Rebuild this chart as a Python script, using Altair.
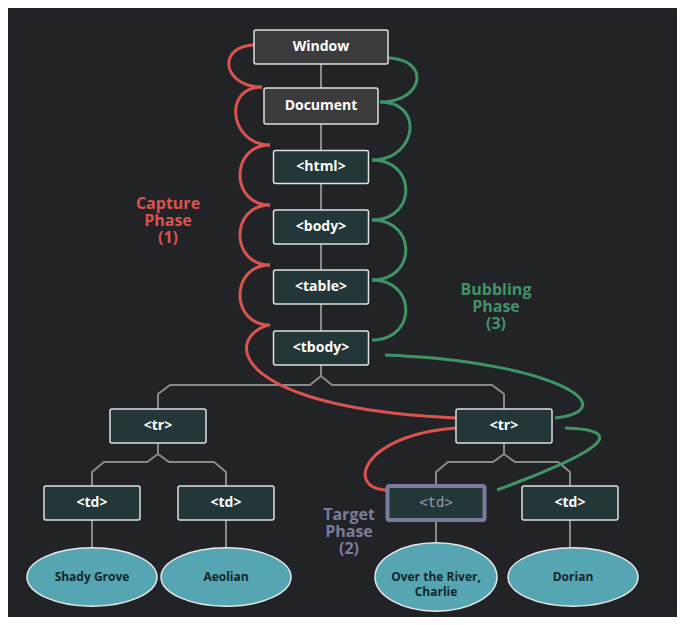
import altair as alt
import pandas as pd
import numpy as np

BG = "#222327"
RED = "#d9534f"
GREEN = "#3f9466"
LAV = "#7b7b9c"

# boxes: label, center x, center y, width, height, kind
box_label = ["Window", "Document", "<html>", "<body>", "<table>", "<tbody>",
             "<tr>", "<tr>", "<td>", "<td>", "<td>", "<td>"]
box_x = [321, 321, 321, 321, 321, 321, 158, 504, 92, 226, 436, 570]
box_y = [47, 106, 167, 227, 287, 348, 426, 426, 503, 503, 503, 503]
box_w = [134, 114, 95, 95, 95, 95, 96, 96, 96, 96, 97, 96]
box_h = [34, 36, 33, 34, 34, 34, 34, 34, 34, 34, 34, 34]
box_kind = ["doc", "doc", "el", "el", "el", "el", "el", "el", "el", "el", "target", "el"]

leaf_label = ["Shady Grove", "Aeolian", "Over the River,\nCharlie", "Dorian"]
leaf_x = [92, 226, 436, 573]
leaf_y = [577, 577, 577, 577]

# tree connector polylines (x, y pairs)
links = [
    [(321, 64), (321, 88)], [(321, 124), (321, 151)], [(321, 184), (321, 210)],
    [(321, 244), (321, 270)], [(321, 304), (321, 331)],
    [(321, 365), (321, 376), (310, 385), (170, 385), (158, 394), (158, 409)],
    [(321, 376), (332, 385), (492, 385), (504, 394), (504, 409)],
    [(158, 443), (158, 454), (147, 462), (104, 462), (92, 472), (92, 486)],
    [(158, 454), (169, 462), (214, 462), (226, 472), (226, 486)],
    [(504, 443), (504, 454), (493, 462), (448, 462), (436, 472), (436, 486)],
    [(504, 454), (515, 462), (558, 462), (570, 472), (570, 486)],
    [(92, 520), (92, 547)], [(226, 520), (226, 547)],
    [(436, 520), (436, 542)], [(570, 520), (570, 547)],
]

# phase curves as cubic bezier control points
red_ends_y = [45, 87, 145, 205, 265, 325]
red_ends_x = [256, 262, 270, 270, 270, 270]
green_ends_y = [58, 102, 160, 220, 280, 340]
green_ends_x = [386, 380, 372, 372, 372, 372]
red_extra = [[(268, 325), (222, 340), (235, 408), (456, 418)],
             [(456, 428), (360, 435), (345, 490), (388, 490)]]
green_extra = [[(385, 355), (560, 362), (625, 410), (555, 418)],
               [(565, 428), (625, 430), (610, 448), (497, 490)]]


def bez(p, n=40):
    t = np.linspace(0, 1, n)[:, None]
    p = np.array(p, dtype=float)
    return ((1 - t) ** 3 * p[0] + 3 * (1 - t) ** 2 * t * p[1]
            + 3 * (1 - t) * t ** 2 * p[2] + t ** 3 * p[3])


curves = []
for i in range(len(red_ends_y) - 1):
    a, b = red_ends_y[i], red_ends_y[i + 1]
    xa, xb = red_ends_x[i], red_ends_x[i + 1]
    curves.append(("red", [(xa, a), (xa - 40, a), (xb - 40, b), (xb, b)]))
for c in red_extra:
    curves.append(("red", c))
for i in range(len(green_ends_y) - 1):
    a, b = green_ends_y[i], green_ends_y[i + 1]
    xa, xb = green_ends_x[i], green_ends_x[i + 1]
    curves.append(("green", [(xa, a), (xa + 45, a), (xb + 45, b), (xb, b)]))
for c in green_extra:
    curves.append(("green", c))

rows = []
for k, (col, pts) in enumerate(curves):
    for j, (x, y) in enumerate(bez(pts)):
        rows.append({"id": k, "o": j, "x": x, "y": y, "c": col})
curve_df = pd.DataFrame(rows)

link_rows = []
for k, pts in enumerate(links):
    for j, (x, y) in enumerate(pts):
        link_rows.append({"id": k, "o": j, "x": x, "y": y})
link_df = pd.DataFrame(link_rows)

box_df = pd.DataFrame({"label": box_label, "x": box_x, "y": box_y, "w": box_w,
                       "h": box_h, "kind": box_kind})
box_df["x1"] = box_df.x - box_df.w / 2
box_df["x2"] = box_df.x + box_df.w / 2
box_df["y1"] = box_df.y - box_df.h / 2
box_df["y2"] = box_df.y + box_df.h / 2

leaf_df = pd.DataFrame({"label": leaf_label, "x": leaf_x, "y": leaf_y})
leaf_df["label"] = leaf_df["label"].str.split("\n")

phase_df = pd.DataFrame({
    "label": [["Capture", "Phase", "(1)"], ["Bubbling", "Phase", "(3)"], ["Target", "Phase", "(2)"]],
    "x": [168, 496, 349], "y": [196, 282, 507], "c": [RED, GREEN, LAV]})

X = alt.Scale(domain=[8, 677])
Y = alt.Scale(domain=[617, 8])
ax = lambda f: alt.X(f, scale=X, axis=None)
ay = lambda f: alt.Y(f, scale=Y, axis=None)

links_l = alt.Chart(link_df).mark_line(color="#8a8a8a", strokeWidth=2).encode(
    x=ax("x:Q"), y=ay("y:Q"), detail="id:N", order="o:Q")

curves_l = alt.Chart(curve_df).mark_line(strokeWidth=3).encode(
    x=ax("x:Q"), y=ay("y:Q"), detail="id:N", order="o:Q",
    color=alt.Color("c:N", scale=alt.Scale(domain=["red", "green"], range=[RED, GREEN]), legend=None))

rects = alt.Chart(box_df).mark_rect(cornerRadius=2).encode(
    x=ax("x1:Q"), x2="x2:Q", y=ay("y1:Q"), y2="y2:Q",
    fill=alt.Color("kind:N", scale=alt.Scale(domain=["doc", "el", "target"],
                                             range=["#3b3b3d", "#233638", "#233638"]), legend=None),
    stroke=alt.Color("kind:N", scale=alt.Scale(domain=["doc", "el", "target"],
                                               range=["#e0e0e0", "#e0e0e0", LAV]), legend=None),
    strokeWidth=alt.condition(alt.datum.kind == "target", alt.value(4), alt.value(1.5)))

box_text = alt.Chart(box_df[box_df.kind != "target"]).mark_text(
    font="Open Sans", fontWeight="bold", fontSize=14, color="white").encode(
    x=ax("x:Q"), y=ay("y:Q"), text="label:N")
target_text = alt.Chart(box_df[box_df.kind == "target"]).mark_text(
    font="DejaVu Sans Mono", fontSize=14, color="#9a9aae").encode(
    x=ax("x:Q"), y=ay("y:Q"), text="label:N")

ell = "M-1,0 A1,0.45 0 1,0 1,0 A1,0.45 0 1,0 -1,0 Z"
ell2 = "M-1,0 A1,0.56 0 1,0 1,0 A1,0.56 0 1,0 -1,0 Z"
leaves = alt.Chart(leaf_df[leaf_df.index != 2]).mark_point(
    shape=ell, size=130 * 130, filled=True, fill="#56a5b2", stroke="#e8e8e8",
    strokeWidth=1.5, opacity=1).encode(x=ax("x:Q"), y=ay("y:Q"))
leaf_t = alt.Chart(leaf_df[leaf_df.index == 2]).mark_point(
    shape=ell2, size=122 * 122, filled=True, fill="#56a5b2", stroke="#e8e8e8",
    strokeWidth=1.5, opacity=1).encode(x=ax("x:Q"), y=ay("y:Q"))
leaf_text = alt.Chart(leaf_df).mark_text(
    font="Open Sans", fontWeight="bold", fontSize=12, color="#13272b", lineHeight=15).encode(
    x=ax("x:Q"), y=ay("y:Q"), text="label")

phase_text = alt.Chart(phase_df).mark_text(
    font="Open Sans", fontWeight="bold", fontSize=16, lineHeight=17, baseline="top").encode(
    x=ax("x:Q"), y=ay("y:Q"), text="label", color=alt.Color("c:N", scale=None))

chart = alt.layer(links_l, curves_l, rects, box_text, target_text, leaves, leaf_t,
                  leaf_text, phase_text).properties(
    width=669, height=609, padding=0, autosize="none", background=BG
).configure_view(stroke=None)

chart.save("out.html", embed_options={"renderer": "svg", "actions": False})
